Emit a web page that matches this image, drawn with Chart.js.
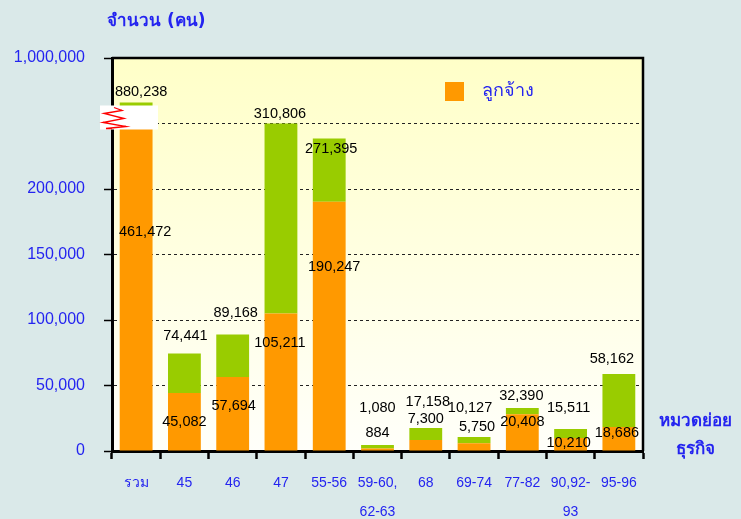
<!DOCTYPE html>
<html>
<head>
<meta charset="utf-8">
<script src="https://cdn.jsdelivr.net/npm/chart.js@4.4.1/dist/chart.umd.min.js"></script>
<style>
html,body{margin:0;padding:0;background:#DAE9E9;}
canvas{display:block;}
</style>
</head>
<body>
<canvas id="c" width="741" height="519"></canvas>
<script>
// ---- data ----
const categories = ['รวม','45','46','47','55-56',['59-60,','62-63'],'68','69-74','77-82',['90,92-','93'],'95-96'];
// values printed on the chart
const employeeValues = [461472,45082,57694,105211,190247,884,7300,5750,20408,10210,18686];
const totalValues    = [880238,74441,89168,310806,271395,1080,17158,10127,32390,15511,58162];
// bar heights as drawn on the broken axis
const employeeBarHeights = [255000,44200,56400,105000,190300,2000,8400,6000,28000,10000,18300];
const totalBarHeights    = [266000,74500,89000,250000,238600,4500,17500,10700,32800,16800,58700];
const yTickValues = [0,50000,100000,150000,200000,250000,300000];
const yTickLabels = ['0','50,000','100,000','150,000','200,000','','1,000,000'];
const legendLabel = 'ลูกจ้าง';
const yTitle = 'จำนวน (คน)';
const xTitle = ['หมวดย่อย','ธุรกิจ'];

// ---- styles ----
const BLUE = '#2424F0';
const ORANGE = '#FF9900';
const GREEN = '#99CC00';
const fmt = v => v.toLocaleString('en-US');
// label offsets (px) relative to segment top / category centre
const totalDx = [5,1,3,-1,2,0,2,-4,-1,-2,-7];
const totalDy = [-11,-17,-21,-10,11,-37,-26,-29,-12,-21,-15];
const empDx = [9,0,1,-1,5,0,0,3,0,-2,-2];
const empDy = [115,29,29,30,65,-15,-21,-16,8,5,6];

const greenHeights = totalBarHeights.map((t,i)=>t-employeeBarHeights[i]);

const bgPlugin = {
  id:'bg',
  beforeDraw(chart){
    const {ctx, chartArea:a} = chart;
    ctx.save();
    ctx.fillStyle = '#DAE9E9';
    ctx.fillRect(0,0,chart.width,chart.height);
    const g = ctx.createLinearGradient(0,a.top,0,a.bottom);
    g.addColorStop(0,'#FFFFC8');
    g.addColorStop(1,'#FFFFFA');
    ctx.fillStyle = g;
    ctx.fillRect(a.left,a.top,a.right-a.left,a.bottom-a.top);
    ctx.restore();
  }
};

const labelPlugin = {
  id:'labels',
  afterDatasetsDraw(chart){
    const {ctx, scales:{x,y}} = chart;
    ctx.save();
    ctx.font = '14.5px "Liberation Sans", Tahoma, sans-serif';
    ctx.fillStyle = '#000';
    ctx.textAlign = 'center';
    ctx.textBaseline = 'middle';
    categories.forEach((c,i)=>{
      const cx = x.getPixelForValue(i);
      ctx.fillText(fmt(totalValues[i]), cx+totalDx[i], y.getPixelForValue(totalBarHeights[i])+totalDy[i]);
      ctx.fillText(fmt(employeeValues[i]), cx+empDx[i], y.getPixelForValue(employeeBarHeights[i])+empDy[i]);
    });
    ctx.restore();
  },
  afterDraw(chart){
    const {ctx, chartArea:a, scales:{x,y}} = chart;
    ctx.save();
    // top & right frame
    ctx.strokeStyle = '#000';
    ctx.lineWidth = 2.5;
    ctx.beginPath();
    ctx.moveTo(a.left, a.top);
    ctx.lineTo(a.right, a.top);
    ctx.lineTo(a.right, a.bottom);
    ctx.stroke();
    // axis break marker
    const by = y.getPixelForValue(250000);
    ctx.fillStyle = '#FFFFFF';
    ctx.fillRect(a.left-12, by-18, 58, 24);
    ctx.strokeStyle = '#FF0000';
    ctx.lineWidth = 1.3;
    ctx.beginPath();
    const zx = a.left-12;
    const pts = [[14,-16],[22,-13],[4,-10],[24,-5],[3,-1],[26,3],[6,5],[12,5]];
    pts.forEach((p,k)=>{ if(k===0) ctx.moveTo(zx+p[0],by+p[1]); else ctx.lineTo(zx+p[0],by+p[1]); });
    ctx.stroke();
    // y title
    ctx.fillStyle = BLUE;
    ctx.textBaseline = 'middle';
    ctx.textAlign = 'left';
    ctx.font = 'bold 17px Tahoma, "DejaVu Sans", sans-serif';
    ctx.fillText(yTitle, 107, 22);
    // x title
    ctx.textAlign = 'center';
    ctx.fillText(xTitle[0], 695, 422);
    ctx.fillText(xTitle[1], 695, 450);
    // legend
    ctx.fillStyle = ORANGE;
    ctx.fillRect(445, 82, 19, 19);
    ctx.fillStyle = BLUE;
    ctx.textAlign = 'left';
    ctx.font = '18px Tahoma, "DejaVu Sans", sans-serif';
    ctx.fillText(legendLabel, 482, 91);
    ctx.restore();
  }
};

new Chart(document.getElementById('c'), {
  type:'bar',
  data:{
    labels: categories,
    datasets:[
      {label: legendLabel, data: employeeBarHeights, backgroundColor: ORANGE, barPercentage:0.68, categoryPercentage:1},
      {label: 'รวม', data: greenHeights, backgroundColor: GREEN, barPercentage:0.68, categoryPercentage:1}
    ]
  },
  options:{
    responsive:false,
    animation:false,
    devicePixelRatio:1,
    layout:{padding:{top:58,right:98,left:0,bottom:0}},
    plugins:{legend:{display:false},tooltip:{enabled:false}},
    scales:{
      x:{
        stacked:true,
        offset:true,
        afterFit(s){ s.height = 68; },
        grid:{display:true,drawOnChartArea:false,drawTicks:true,tickLength:8,tickColor:'#000',tickWidth:2.5,offset:true},
        border:{display:true,color:'#000',width:3},
        ticks:{color:BLUE,font:{family:'"Liberation Sans", Tahoma, sans-serif',size:14,lineHeight:2.07},padding:10,maxRotation:0,autoSkip:false}
      },
      y:{
        stacked:true,
        min:0,max:300000,
        afterFit(s){ s.width = 112; },
        afterBuildTicks(s){ s.ticks = yTickValues.map(v=>({value:v})); },
        grid:{
          color:(c)=> (c.tick && (c.tick.value===0 || c.tick.value===300000)) ? 'rgba(0,0,0,0)' : '#222',
          lineWidth:1,tickLength:8,tickColor:'#000',tickWidth:1.5
        },
        border:{display:true,color:'#000',width:3,dash:[3,3]},
        ticks:{
          color:BLUE,
          font:{family:'"Liberation Sans", Tahoma, sans-serif',size:16},
          padding:19,
          callback:(v)=>{ const k = yTickValues.indexOf(v); return k>=0 ? yTickLabels[k] : ''; }
        }
      }
    }
  },
  plugins:[bgPlugin,labelPlugin]
});
</script>
</body>
</html>
